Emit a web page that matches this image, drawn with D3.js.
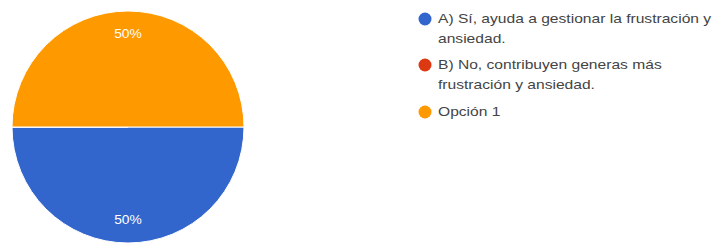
<!DOCTYPE html>
<html>
<head>
<meta charset="utf-8">
<script src="https://cdn.jsdelivr.net/npm/d3@7"></script>
<style>
  body { margin: 0; background: #fff; }
  text { font-family: "Liberation Sans", Arial, sans-serif; }
</style>
</head>
<body>
<svg id="pie-chart" width="716" height="244"></svg>
<script>
const categories = ['A', 'B', 'C'];
const values = [50, 0, 50];
const legendLines = [
  ['A) Sí, ayuda a gestionar la frustración y', 'ansiedad.'],
  ['B) No, contribuyen generas más', 'frustración y ansiedad.'],
  ['Opción 1']
];
const colors = ['#3366cc', '#dc3912', '#ff9900'];

const svg = d3.select('#pie-chart'),
  cx = 128,
  cy = 127,
  radius = 116;

const color = d3.scaleOrdinal().domain(categories).range(colors);

const pie = d3.pie()
  .sort(null)
  .value(function(d) { return d.value; })
  .startAngle(Math.PI / 2)
  .endAngle(Math.PI / 2 + 2 * Math.PI);

const data = categories.map(function(c, i) { return {key: c, value: values[i]}; });
const arcs = pie(data);

const arc = d3.arc().innerRadius(0).outerRadius(radius);
const labelArc = d3.arc().innerRadius(radius * 0.8).outerRadius(radius * 0.8);

const g = svg.append('g')
  .attr('transform', 'translate(' + cx + ',' + cy + ')');

g.selectAll('path')
  .data(arcs)
  .enter().append('path')
  .attr('fill', function(d) { return color(d.data.key); })
  .attr('stroke', '#fff')
  .attr('stroke-width', 1)
  .attr('d', arc);

const total = d3.sum(values);
g.selectAll('text.lbl')
  .data(arcs.filter(function(d) { return d.data.value > 0; }))
  .enter().append('text')
  .attr('class', 'lbl')
  .attr('transform', function(d) { return 'translate(' + labelArc.centroid(d) + ') scale(1.15,1)'; })
  .attr('text-anchor', 'middle')
  .attr('dy', '0.35em')
  .attr('fill', '#fff')
  .attr('font-size', 12)
  .text(function(d) { return Math.round(d.data.value / total * 100) + '%'; });

// legend
const rowY = d3.scaleOrdinal().domain(categories).range([19, 65, 112]);
const legend = svg.append('g');
const item = legend.selectAll('g')
  .data(categories)
  .enter().append('g')
  .attr('transform', function(d) { return 'translate(425,' + rowY(d) + ')'; });

item.append('circle')
  .attr('r', 6.5)
  .attr('fill', function(d) { return color(d); });

item.append('text')
  .attr('transform', 'translate(13,0) scale(1.25,1)')
  .attr('fill', '#444')
  .attr('font-size', 12.5)
  .selectAll('tspan')
  .data(function(d, i) { return legendLines[i]; })
  .enter().append('tspan')
  .attr('x', 0)
  .attr('dy', function(d, j) { return j === 0 ? '0.35em' : 20; })
  .text(function(d) { return d; });
</script>
</body>
</html>
